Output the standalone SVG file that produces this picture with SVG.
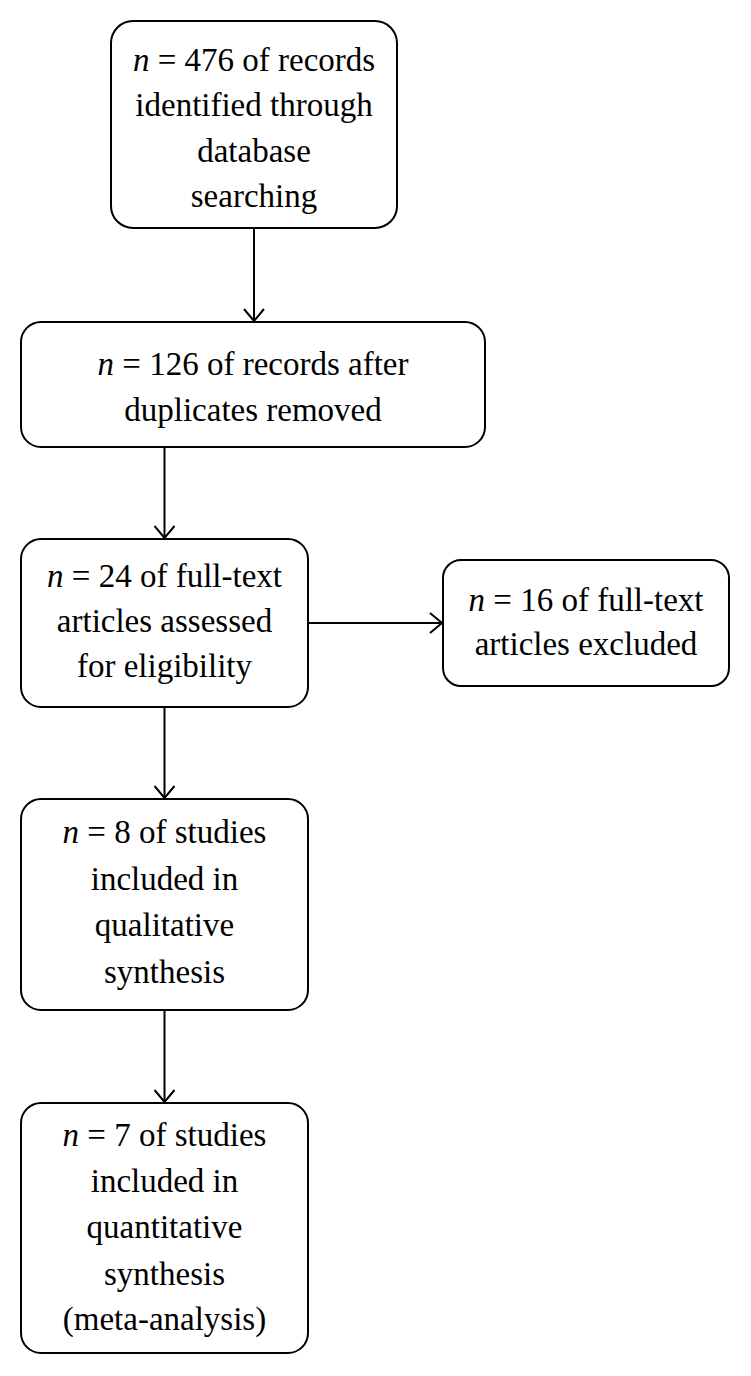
<svg xmlns="http://www.w3.org/2000/svg" width="751" height="1376" viewBox="0 0 751 1376">
  <style>
    .box { fill: #ffffff; stroke: #000000; stroke-width: 2; }
    .lbl { font-family: "Liberation Serif", "Times New Roman", serif; font-size: 33px; fill: #000000; text-anchor: middle; }
    .it { font-style: italic; }
    .conn { stroke: #000000; stroke-width: 2; fill: none; marker-end: url(#arrow); }
  </style>
  <defs>
    <marker id="arrow" viewBox="0 0 14 22" refX="13" refY="11" markerWidth="14" markerHeight="22" markerUnits="userSpaceOnUse" orient="auto">
      <path d="M1,1 L13,11 L1,21" fill="none" stroke="#000000" stroke-width="2"/>
    </marker>
  </defs>
  <rect width="751" height="1376" fill="#ffffff"/>

  <g id="connectors">
    <line class="conn" x1="254" y1="229" x2="254" y2="321"/>
    <line class="conn" x1="164.5" y1="447" x2="164.5" y2="538"/>
    <line class="conn" x1="308" y1="623" x2="442" y2="623"/>
    <line class="conn" x1="164.5" y1="707" x2="164.5" y2="798"/>
    <line class="conn" x1="164.5" y1="1010" x2="164.5" y2="1102"/>
  </g>

  <g id="node-identified">
    <rect class="box" x="111" y="21" width="286" height="207" rx="22"/>
    <text class="lbl" x="254" y="71"><tspan class="it">n</tspan> = 476 of records</text>
    <text class="lbl" x="254" y="116">identified through</text>
    <text class="lbl" x="254" y="162">database</text>
    <text class="lbl" x="254" y="207">searching</text>
  </g>

  <g id="node-duplicates">
    <rect class="box" x="21" y="322" width="464" height="125" rx="20"/>
    <text class="lbl" x="253" y="375"><tspan class="it">n</tspan> = 126 of records after</text>
    <text class="lbl" x="253" y="421">duplicates removed</text>
  </g>

  <g id="node-assessed">
    <rect class="box" x="21" y="539" width="287" height="168" rx="20"/>
    <text class="lbl" x="164.5" y="587"><tspan class="it">n</tspan> = 24 of full-text</text>
    <text class="lbl" x="164.5" y="632">articles assessed</text>
    <text class="lbl" x="164.5" y="677">for eligibility</text>
  </g>

  <g id="node-excluded">
    <rect class="box" x="443" y="560" width="286" height="126" rx="18"/>
    <text class="lbl" x="586" y="611"><tspan class="it">n</tspan> = 16 of full-text</text>
    <text class="lbl" x="586" y="655">articles excluded</text>
  </g>

  <g id="node-qualitative">
    <rect class="box" x="21" y="799" width="287" height="211" rx="20"/>
    <text class="lbl" x="164.5" y="843"><tspan class="it">n</tspan> = 8 of studies</text>
    <text class="lbl" x="164.5" y="890">included in</text>
    <text class="lbl" x="164.5" y="936">qualitative</text>
    <text class="lbl" x="164.5" y="983">synthesis</text>
  </g>

  <g id="node-quantitative">
    <rect class="box" x="21" y="1103" width="287" height="250" rx="20"/>
    <text class="lbl" x="164.5" y="1146"><tspan class="it">n</tspan> = 7 of studies</text>
    <text class="lbl" x="164.5" y="1192">included in</text>
    <text class="lbl" x="164.5" y="1238">quantitative</text>
    <text class="lbl" x="164.5" y="1285">synthesis</text>
    <text class="lbl" x="164.5" y="1330">(meta-analysis)</text>
  </g>
</svg>
